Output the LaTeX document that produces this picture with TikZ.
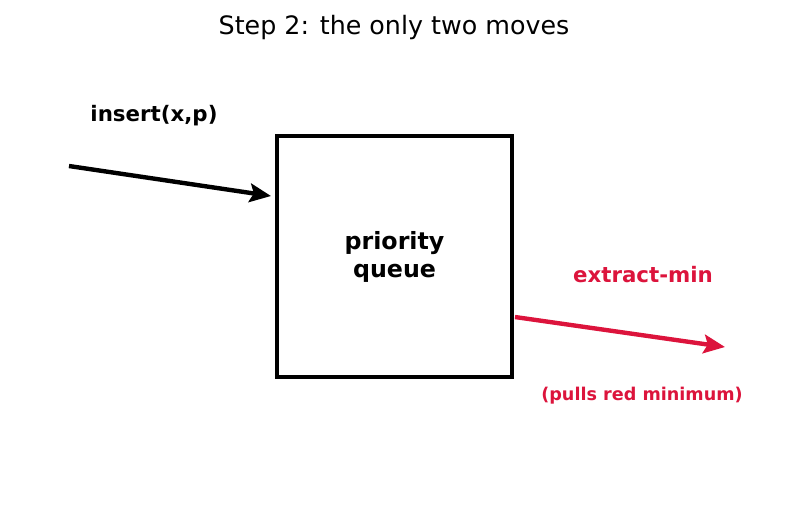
\documentclass[tikz,border=0pt]{standalone}
\usepackage{fontspec}
\setmainfont{DejaVu Sans}
\usetikzlibrary{arrows.meta}
\definecolor{crimson}{HTML}{DC143C}
\tikzset{
  lbl/.style={font=\bfseries\fontsize{16}{19}\selectfont},
  move/.style={line width=3.3pt,-{Stealth[length=16pt,width=14pt,inset=3pt]}}
}
\begin{document}
\begin{tikzpicture}[x=0.75pt,y=-0.75pt]
\useasboundingbox (0,0) rectangle (787,512);
\node (title) at (394,28) [font=\fontsize{19}{22}\selectfont] {Step 2: the only two moves};
\node (pq) at (394.5,256.5) [shape=rectangle,draw,line width=3.3pt,minimum width=176pt,minimum height=180.5pt,align=center,font=\bfseries\fontsize{17.8}{21}\selectfont] {priority\\queue};
\coordinate (in) at (69,166);
\coordinate (inend) at (271,196);
\coordinate (out) at (515,317);
\coordinate (outend) at (725,347);
\node (ins) at (154,116) [lbl] {insert(x,p)};
\node (ext) at (643,275) [lbl,text=crimson] {extract-min};
\node (note) at (642,396) [font=\bfseries\fontsize{13.2}{16}\selectfont,text=crimson] {(pulls red minimum)};
\draw [move] (in) -- (inend);
\draw [move,crimson] (out) -- (outend);
\end{tikzpicture}
\end{document}
